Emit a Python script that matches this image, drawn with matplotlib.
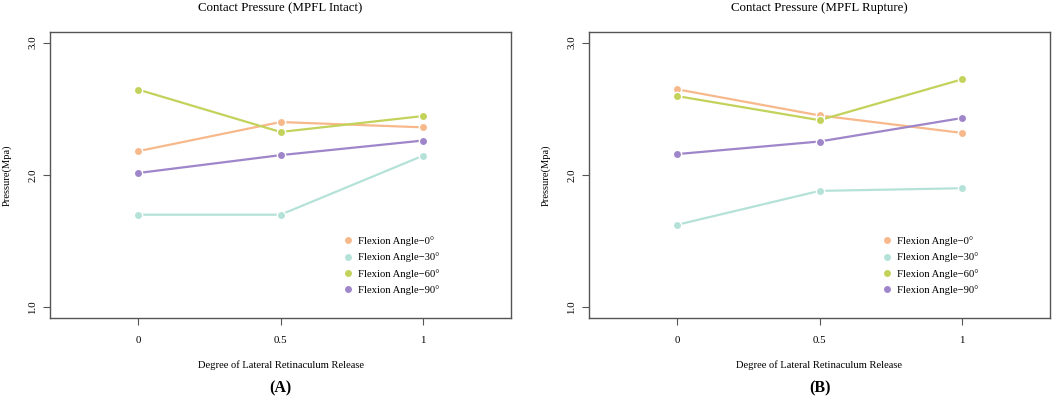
import matplotlib.pyplot as plt

plt.rcParams["font.family"] = ["Liberation Serif", "DejaVu Serif"]

release = [0, 0.5, 1]
release_labels = ["0", "0.5", "1"]
angle_labels = ["Flexion Angle\u22120°", "Flexion Angle\u221230°",
                "Flexion Angle\u221260°", "Flexion Angle\u221290°"]
colors = ["#F7B98B", "#B5E2D8", "#C3D25A", "#9F85C9"]

# pressure (MPa), one list per flexion angle
intact_0 = [2.18, 2.40, 2.36]
intact_30 = [1.70, 1.70, 2.145]
intact_60 = [2.645, 2.325, 2.445]
intact_90 = [2.015, 2.15, 2.26]

rupture_0 = [2.647, 2.45, 2.318]
rupture_30 = [1.624, 1.88, 1.90]
rupture_60 = [2.596, 2.414, 2.722]
rupture_90 = [2.158, 2.253, 2.43]

panels = [
    ("Contact Pressure (MPFL Intact)", "A", [intact_0, intact_30, intact_60, intact_90]),
    ("Contact Pressure (MPFL Rupture)", "B", [rupture_0, rupture_30, rupture_60, rupture_90]),
]

fig = plt.figure(figsize=(10.52, 3.97), dpi=100)
lefts = [50 / 1052, 589 / 1052]
spine_col = "#555555"

for left, (title, tag, series) in zip(lefts, panels):
    ax = fig.add_axes([left, 1 - 318 / 397, 461 / 1052, 286 / 397])
    for vals, lab, col in zip(series, angle_labels, colors):
        ax.plot(release, vals, color=col, lw=1.6, zorder=2)
        ax.plot(release, vals, ls="none", marker="o", ms=6, mfc=col,
                mec="white", mew=1.0, label=lab, zorder=3)
    ax.set_xlim(-0.31, 1.31)
    ax.set_ylim(0.92, 3.08)
    ax.set_xticks(release)
    ax.set_xticklabels(release_labels)
    ax.set_yticks([1.0, 2.0, 3.0])
    ax.set_yticklabels(["1.0", "2.0", "3.0"], rotation=90, va="center")
    ax.tick_params(labelsize=7.8, length=5, width=0.8, color=spine_col)
    ax.tick_params(axis="x", pad=8)
    ax.tick_params(axis="y", pad=4)
    for s in ax.spines.values():
        s.set_color(spine_col)
        s.set_linewidth(1.0)
    ax.set_title(title, fontsize=9.3, pad=15)
    ax.set_ylabel("Pressure(Mpa)", fontsize=7.6, labelpad=12)
    ax.set_xlabel("Degree of Lateral Retinaculum Release", fontsize=7.6, labelpad=11)
    ax.text(0.5, -0.245, "(" + tag + ")", transform=ax.transAxes, ha="center",
            va="center", fontsize=11.5, fontweight="bold")
    ax.legend(loc="upper left", bbox_to_anchor=(0.625, 0.30), frameon=False,
              fontsize=7.7, handlelength=1.0, handletextpad=0.45,
              labelspacing=0.6, borderaxespad=0)

fig.savefig("out.png", dpi=100)
